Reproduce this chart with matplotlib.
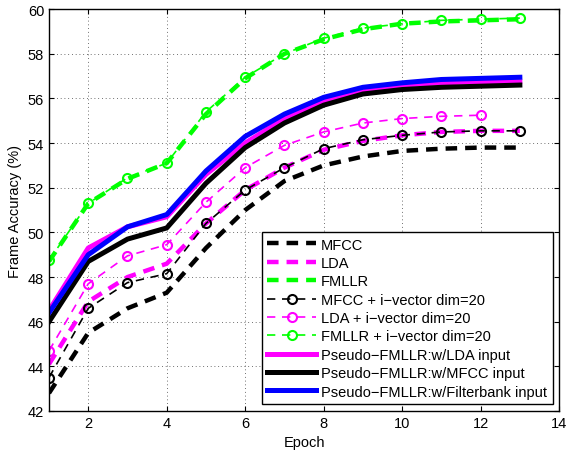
import matplotlib
matplotlib.use("Agg")
import matplotlib.pyplot as plt

epochs = list(range(1, 14))

mfcc = [42.8, 45.5, 46.6, 47.3, 49.3, 51.0, 52.3, 53.0, 53.4, 53.65, 53.75, 53.8, 53.8]
lda = [44.1, 46.9, 48.0, 48.6, 50.4, 51.9, 52.9, 53.7, 54.1, 54.35, 54.5, 54.55, 54.55]
fmllr = [48.7, 51.3, 52.4, 53.1, 55.3, 56.9, 58.0, 58.65, 59.1, 59.35, 59.45, 59.5, 59.55]

mfcc_iv = [43.5, 46.6, 47.75, 48.15, 50.4, 51.9, 52.9, 53.75, 54.15, 54.35, 54.5, 54.55, 54.55]
lda_iv = [44.7, 47.7, 48.95, 49.45, 51.35, 52.9, 53.9, 54.5, 54.9, 55.1, 55.2, 55.25]
fmllr_iv = [48.75, 51.3, 52.45, 53.1, 55.4, 56.95, 58.0, 58.7, 59.15, 59.35, 59.5, 59.55, 59.6]

pseudo_lda = [46.5, 49.3, 50.25, 50.7, 52.6, 54.0, 55.1, 55.9, 56.3, 56.6, 56.7, 56.75, 56.75]
pseudo_mfcc = [46.0, 48.7, 49.7, 50.2, 52.2, 53.8, 54.9, 55.7, 56.2, 56.4, 56.5, 56.55, 56.6]
pseudo_fbank = [46.4, 49.0, 50.25, 50.8, 52.75, 54.3, 55.3, 56.05, 56.5, 56.7, 56.85, 56.9, 56.95]


def main():
    plt.rcParams["font.family"] = ["Liberation Sans", "DejaVu Sans"]
    plt.rcParams["font.size"] = 10.5
    plt.rcParams["xtick.direction"] = "in"
    plt.rcParams["ytick.direction"] = "in"
    plt.rcParams["xtick.top"] = True
    plt.rcParams["ytick.right"] = True
    plt.rcParams["axes.linewidth"] = 1.0

    fig = plt.figure(figsize=(5.68, 4.52), dpi=100)
    ax = fig.add_axes([0.0863, 0.0885, 0.898, 0.889])

    thick = 3.2
    ax.plot(epochs, mfcc, color="k", lw=thick, dashes=(2.6, 1.8), label="MFCC")
    ax.plot(epochs, lda, color="#ff00ff", lw=thick, dashes=(2.6, 1.8), label="LDA")
    ax.plot(epochs, fmllr, color="#00ff00", lw=thick, dashes=(2.6, 1.8), label="FMLLR")

    mk = dict(marker="o", markersize=6.5, markerfacecolor="none", markeredgewidth=1.5,
              lw=1.2, dashes=(5, 4))
    ax.plot(epochs, mfcc_iv, color="k", label="MFCC + i\u2212vector dim=20", **mk)
    ax.plot(epochs[:len(lda_iv)], lda_iv, color="#ff00ff",
            label="LDA + i\u2212vector dim=20", **mk)
    ax.plot(epochs, fmllr_iv, color="#00ff00", label="FMLLR + i\u2212vector dim=20", **mk)

    ax.plot(epochs, pseudo_lda, color="#ff00ff", lw=3.6, label="Pseudo\u2212FMLLR:w/LDA input")
    ax.plot(epochs, pseudo_mfcc, color="k", lw=3.6, label="Pseudo\u2212FMLLR:w/MFCC input")
    ax.plot(epochs, pseudo_fbank, color="#0000ff", lw=3.6,
            label="Pseudo\u2212FMLLR:w/Filterbank input")

    ax.set_xlim(1, 14)
    ax.set_ylim(42, 60)
    ax.set_xticks(range(2, 15, 2))
    ax.set_yticks(range(42, 61, 2))
    ax.grid(True, color="0.25", linestyle=(0, (1, 3.5)), linewidth=0.6)
    ax.set_xlabel("Epoch")
    ax.set_ylabel("Frame Accuracy (%)")

    leg = ax.legend(loc="lower right", fancybox=False, edgecolor="k", framealpha=1,
                    handlelength=3.3, labelspacing=0.3, borderpad=0.4,
                    handletextpad=0.35, borderaxespad=0.45, fontsize=10.5)
    leg.get_frame().set_linewidth(1.0)

    fig.savefig("out.png", dpi=100)
    plt.close(fig)


if __name__ == "__main__":
    main()
